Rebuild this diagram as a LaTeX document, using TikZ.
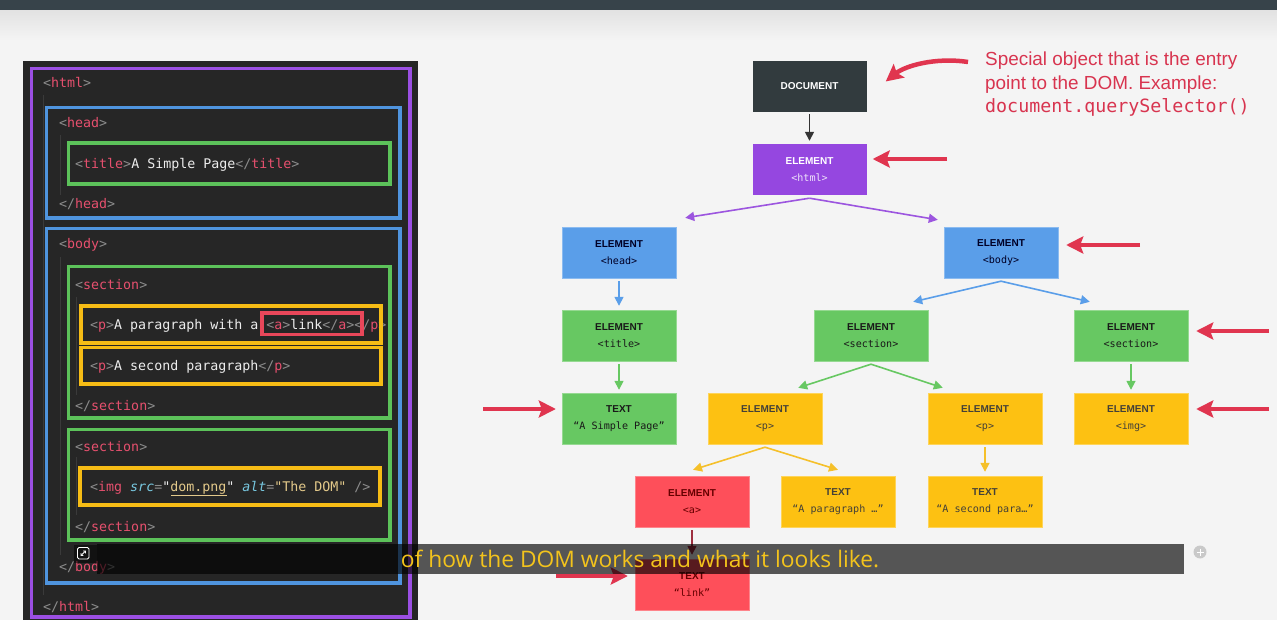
\documentclass[tikz,border=0pt]{standalone}
\usepackage{fontspec}
\setmainfont{Liberation Sans}
\setmonofont{DejaVu Sans Mono}
\newfontfamily\subfont{Open Sans}
\usetikzlibrary{arrows.meta,calc}
\definecolor{bg}{HTML}{F4F4F4}
\definecolor{topbar}{HTML}{37434A}
\definecolor{topshade}{HTML}{E2E2E2}
\definecolor{panel}{HTML}{262626}
\definecolor{kpurple}{HTML}{9B4FE3}
\definecolor{kblue}{HTML}{4F94DE}
\definecolor{kgreen}{HTML}{5CC25A}
\definecolor{kyellow}{HTML}{F6BC15}
\definecolor{kred}{HTML}{E8475A}
\definecolor{cbr}{HTML}{8C8C8C}
\definecolor{ctag}{HTML}{E6506E}
\definecolor{ctxt}{HTML}{EDEDED}
\definecolor{cattr}{HTML}{78C8E0}
\definecolor{cstr}{HTML}{E3C98A}
\definecolor{guide}{HTML}{3A3A3A}
\definecolor{ndoc}{HTML}{323B3E}
\definecolor{npurple}{HTML}{9547E0}
\definecolor{nblue}{HTML}{5A9EE9}
\definecolor{ngreen}{HTML}{67C862}
\definecolor{nyellow}{HTML}{FDC112}
\definecolor{nred}{HTML}{FE4F5A}
\definecolor{rarrow}{HTML}{E0354F}
\definecolor{anntext}{HTML}{D8344F}
\definecolor{subtxt}{HTML}{F3C31C}
\definecolor{adark}{HTML}{333333}
\definecolor{apurple}{HTML}{9C55DF}
\definecolor{ablue}{HTML}{5A9EE9}
\definecolor{agreen}{HTML}{67C862}
\definecolor{ayellow}{HTML}{F5C02A}
\definecolor{ared}{HTML}{9E3040}
\newcommand{\kbr}[1]{\textcolor{cbr}{#1}}
\newcommand{\ktag}[1]{\textcolor{ctag}{#1}}
\newcommand{\ktx}[1]{\textcolor{ctxt}{#1}}
\newcommand{\kat}[1]{\textcolor{cattr}{\itshape #1}}
\newcommand{\kst}[1]{\textcolor{cstr}{#1}}
\newcommand{\mlab}[1]{{\ttfamily\mdseries\fontsize{10.1}{17}\selectfont #1}}
\tikzset{
  codeline/.style={anchor=base west, inner sep=0pt, font=\ttfamily\fontsize{13.3}{16}\selectfont},
  cbox/.style={line width=3.2pt},
  tn/.style={minimum width=114pt, minimum height=51pt, inner sep=0pt, align=center,
             font=\bfseries\fontsize{10}{17}\selectfont},
  ndocs/.style={tn, fill=ndoc, text=white},
  npur/.style={tn, fill=npurple, text=white},
  nblu/.style={tn, fill=nblue, draw=nblue!70!white, text=black!85!blue},
  ngre/.style={tn, fill=ngreen, draw=ngreen!70!white, text=black!90},
  nyel/.style={tn, fill=nyellow, draw=nyellow!70!white, text=black!85!yellow},
  nre/.style={tn, fill=nred, draw=nred!70!white, text=black!60!red},
  tarr/.style={line width=1.6pt, -{Triangle[length=9pt,width=9pt]}},
  rarr/.style={draw=rarrow, line width=4.5pt, -{Stealth[length=17pt,width=17pt,inset=3pt]}},
  ann/.style={anchor=base west, inner sep=0pt, text=anntext, font=\fontsize{18.9}{22}\selectfont},
}
\begin{document}
\begin{tikzpicture}[x=1pt,y=-1pt]
\useasboundingbox (0,0) rectangle (1277,620);
% background
\fill[bg] (0,0) rectangle (1277,620);
\shade[top color=topshade, bottom color=bg] (0,10) rectangle (1277,40);
\fill[topbar] (0,0) rectangle (1277,10);

% ---------------- code panel ----------------
\fill[panel] (23,61) rectangle (418,620);
\draw[guide, line width=0.8pt] (43,95) -- (43,595);
\draw[guide, line width=0.8pt] (60,135) -- (60,195) (60,257) -- (60,555);
\draw[guide, line width=0.8pt] (76,297) -- (76,395) (76,457) -- (76,515);

\node[codeline] (l1) at (43,88) {\kbr{<}\ktag{html}\kbr{>}};
\node[codeline] (l2) at (59,128) {\kbr{<}\ktag{head}\kbr{>}};
\node[codeline] (l3) at (75,169) {\kbr{<}\ktag{title}\kbr{>}\ktx{A Simple Page}\kbr{</}\ktag{title}\kbr{>}};
\node[codeline] (l4) at (59,209) {\kbr{</}\ktag{head}\kbr{>}};
\node[codeline] (l5) at (59,249) {\kbr{<}\ktag{body}\kbr{>}};
\node[codeline] (l6) at (75,290) {\kbr{<}\ktag{section}\kbr{>}};
\node[codeline] (l7) at (90,330) {\kbr{<}\ktag{p}\kbr{>}\ktx{A paragraph with a }\kbr{<}\ktag{a}\kbr{>}\ktx{link}\kbr{</}\ktag{a}\kbr{>}\kbr{</}\ktag{p}\kbr{>}};
\node[codeline] (l8) at (90,370) {\kbr{<}\ktag{p}\kbr{>}\ktx{A second paragraph}\kbr{</}\ktag{p}\kbr{>}};
\node[codeline] (l9) at (75,410) {\kbr{</}\ktag{section}\kbr{>}};
\node[codeline] (l10) at (75,451) {\kbr{<}\ktag{section}\kbr{>}};
\node[codeline] (l11) at (90,491) {\kbr{<}\ktag{img} \kat{src}\kbr{=}\ktx{"}\kst{dom.png}\ktx{"} \kat{alt}\kbr{=}\kst{"The DOM"} \kbr{/>}};
\draw[cstr, line width=0.8pt] (171,495) -- (227,495);
\node[codeline] (l12) at (75,531) {\kbr{</}\ktag{section}\kbr{>}};
\node[codeline] (l13) at (59,571) {\kbr{</}\ktag{body}\kbr{>}};
\node[codeline] (l14) at (43,611) {\kbr{</}\ktag{html}\kbr{>}};

% boxes
\draw[cbox, kpurple] (31.5,68.5) rectangle (410,617);
\draw[cbox, kblue] (46.5,107.5) rectangle (400,218);
\draw[cbox, kgreen] (68.5,143) rectangle (390,184);
\draw[cbox, kblue] (46.5,228.5) rectangle (400,583);
\draw[cbox, kgreen] (68.5,266.5) rectangle (390,418);
\draw[cbox, kyellow] (81,306) rectangle (381,343);
\draw[cbox, kred] (262,313) rectangle (362,334.5);
\draw[cbox, kyellow] (81,347.5) rectangle (381,384);
\draw[cbox, kgreen] (68.5,429.5) rectangle (390,540);
\draw[cbox, kyellow] (80,468) rectangle (380,505);

% ---------------- tree ----------------
\node[ndocs] (doc) at (809.5,86.5) {DOCUMENT};
\node[npur] (html) at (809.5,169.5) {ELEMENT\\\mlab{\textcolor{white!85!npurple}{<html>}}};
\node[nblu] (head) at (619,252.5) {ELEMENT\\\mlab{<head>}};
\node[nblu] (body) at (1001,252.5) {ELEMENT\\\mlab{<body>}};
\node[ngre] (title) at (619,335.5) {ELEMENT\\\mlab{<title>}};
\node[ngre] (sec1) at (871,335.5) {ELEMENT\\\mlab{<section>}};
\node[ngre] (sec2) at (1131,335.5) {ELEMENT\\\mlab{<section>}};
\node[ngre] (txt1) at (619,418.5) {TEXT\\\mlab{“A Simple Page”}};
\node[nyel] (p1) at (765,418.5) {ELEMENT\\\mlab{<p>}};
\node[nyel] (p2) at (985,418.5) {ELEMENT\\\mlab{<p>}};
\node[nyel] (img) at (1131,418.5) {ELEMENT\\\mlab{<img>}};
\node[nre] (a) at (692,501.5) {ELEMENT\\\mlab{<a>}};
\node[nyel] (txtp) at (838,501.5) {TEXT\\\mlab{“A paragraph …”}};
\node[nyel] (txts) at (985,501.5) {TEXT\\\mlab{“A second para…”}};
\node[nre] (link) at (692,584.5) {TEXT\\\mlab{“link”}};

\draw[tarr, adark] ($(doc.south)+(0,2)$) -- ($(html.north)+(0,-3)$);
\draw[tarr, apurple] ($(html.south)+(0,3)$) -- ($(head.north east)+(9,-9)$);
\draw[tarr, apurple] ($(html.south)+(0,3)$) -- ($(body.north west)+(-6,-7)$);
\draw[tarr, ablue] ($(head.south)+(0,3)$) -- ($(title.north)+(0,-4)$);
\draw[tarr, ablue] ($(body.south)+(0,3)$) -- ($(sec1.north east)+(-15,-8)$);
\draw[tarr, ablue] ($(body.south)+(0,3)$) -- ($(sec2.north west)+(16,-8)$);
\draw[tarr, agreen] ($(title.south)+(0,3)$) -- ($(txt1.north)+(0,-3)$);
\draw[tarr, agreen] ($(sec1.south)+(0,3)$) -- ($(p1.north east)+(-24,-5)$);
\draw[tarr, agreen] ($(sec1.south)+(0,3)$) -- ($(p2.north west)+(15,-5)$);
\draw[tarr, agreen] ($(sec2.south)+(0,3)$) -- ($(img.north)+(0,-3)$);
\draw[tarr, ayellow] ($(p1.south)+(0,3)$) -- ($(a.north)+(1,-6)$);
\draw[tarr, ayellow] ($(p1.south)+(0,3)$) -- ($(txtp.north)+(0,-6)$);
\draw[tarr, ayellow] ($(p2.south)+(0,3)$) -- ($(txts.north)+(0,-4)$);
\draw[tarr, ared] ($(a.south)+(0,3)$) -- ($(link.north)+(0,-4)$);

% annotation
\node[ann] (ann1) at (985,66) {Special object that is the entry};
\node[ann] (ann2) at (985,89.5) {point to the DOM. Example:};
\node[ann, font=\ttfamily\fontsize{18.3}{20}\selectfont] (ann3) at (985,113) {document.querySelector()};
\coordinate (annstart) at (968,62);
\draw[rarr] (annstart) .. controls (935,57) and (905,66) .. ($(doc.east)+(19,-5)$);

% red pointer arrows
\coordinate (rt1) at (947,159);
\coordinate (rt2) at (1140,245);
\coordinate (rt3) at (1269,331);
\coordinate (rt4) at (1269,409);
\coordinate (rt5) at (483,409);
\coordinate (rt6) at (556,576);
\draw[rarr] (rt1) -- ($(html.east)+(6,-10.5)$);
\draw[rarr] (rt2) -- ($(body.east)+(8,-7.5)$);
\draw[rarr] (rt3) -- ($(sec2.east)+(8,-4.5)$);
\draw[rarr] (rt4) -- ($(img.east)+(8,-9.5)$);
\draw[rarr] (rt5) -- ($(txt1.west)+(-6,-9.5)$);
\draw[rarr] (rt6) -- ($(link.west)+(-7,-8.5)$);

% subtitle overlay
\fill[black, opacity=0.65] (97,544) rectangle (1184,574);
\fill[black, opacity=0.5] (74,545) rectangle (97,563);
\draw[white, line width=0.9pt, rounded corners=1.5pt] (77.5,547.5) rectangle (89,559);
\draw[white, line width=0.8pt, {Straight Barb[length=1.8pt,width=3.2pt]}-{Straight Barb[length=1.8pt,width=3.2pt]}] (80.5,556) -- (86,550.5);
\node[font=\subfont\fontsize{22.8}{26}\selectfont, text=subtxt, inner sep=0pt] (sub) at (640,559) {of how the DOM works and what it looks like.};
\fill[black!25, opacity=0.8] (1200,552) circle (6.5);
\draw[white, line width=1pt] (1196.5,552) -- (1203.5,552) (1200,548.5) -- (1200,555.5);
\end{tikzpicture}
\end{document}
